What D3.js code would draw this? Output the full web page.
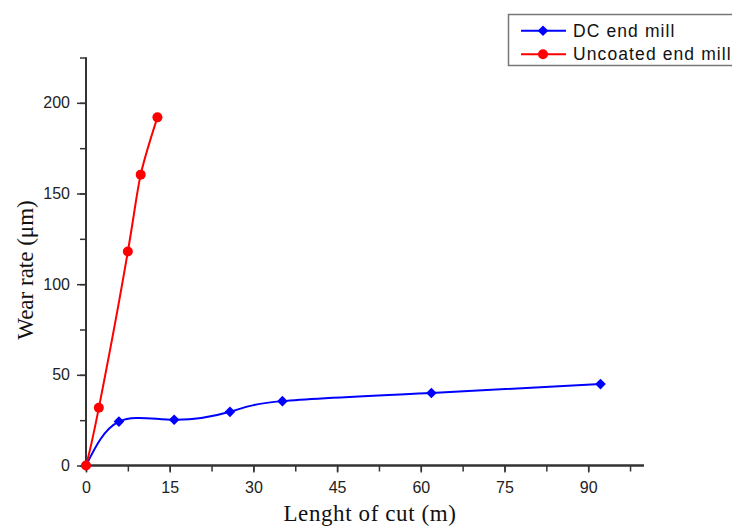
<!DOCTYPE html>
<html>
<head>
<meta charset="utf-8">
<script src="https://cdn.jsdelivr.net/npm/d3@7"></script>
<style>
  body { margin: 0; background: #fff; }
  svg { display: block; }
  .tick text { font-family: Arial, "Liberation Sans", sans-serif; font-size: 16px; fill: #222; }
  .axis-title { font-family: "Times New Roman", "Liberation Serif", serif; fill: #111; }
  .legend text { font-family: Arial, "Liberation Sans", sans-serif; font-size: 17.5px; letter-spacing: 1.1px; fill: #111; }
</style>
</head>
<body>
<svg id="chart" width="732" height="528"></svg>
<script>
// DC end mill
var dcLength = [0, 5.9, 15.8, 25.8, 35.2, 61.9, 92.2];
var dcWear = [0, 24.2, 25.2, 29.6, 35.5, 40, 44.9];

// Uncoated end mill
var ucLength = [0, 2.3, 7.5, 9.8, 12.8];
var ucWear = [0, 31.8, 118, 160.4, 192];

var xTicks = [0, 15, 30, 45, 60, 75, 90];
var yTicks = [0, 50, 100, 150, 200];

var svg = d3.select("#chart");

var x = d3.scaleLinear().domain([0, 100]).range([86, 644]);
var y = d3.scaleLinear().domain([0, 225]).range([465.5, 57.5]);

var axisColor = "#333";

// minor ticks
var xMinor = d3.range(0, 98, 7.5);
var yMinor = d3.range(0, 226, 25);

var gx = svg.append("g")
    .attr("transform", "translate(0," + y(0) + ")");
gx.call(d3.axisBottom(x).tickValues(xMinor).tickSize(6).tickFormat(""))
gx.append("g").call(d3.axisBottom(x).tickValues(xTicks).tickSize(7).tickPadding(9).tickFormat(d3.format("d")));
gx.selectAll(".tick line").attr("stroke", axisColor).attr("stroke-width", 1.5);

var gy = svg.append("g")
    .attr("transform", "translate(" + x(0) + ",0)");
gy.call(d3.axisLeft(y).tickValues(yMinor).tickSize(6).tickFormat(""))
gy.append("g").call(d3.axisLeft(y).tickValues(yTicks).tickSize(9).tickPadding(7).tickFormat(d3.format("d")));
gy.selectAll(".tick line").attr("stroke", axisColor).attr("stroke-width", 1.5);

// plain axis lines without end caps
gx.selectAll(".domain").attr("stroke", axisColor).attr("stroke-width", 2)
    .attr("d", "M" + x.range()[0] + ",0H" + x.range()[1]);
gy.selectAll(".domain").attr("stroke", axisColor).attr("stroke-width", 2)
    .attr("d", "M0," + y.range()[0] + "V" + y.range()[1]);

// axis titles
svg.append("text")
    .attr("class", "axis-title")
    .attr("x", 370)
    .attr("y", 521)
    .attr("text-anchor", "middle")
    .style("font-size", "23px")
    .style("letter-spacing", "0.6px")
    .text("Lenght of cut (m)");

svg.append("text")
    .attr("class", "axis-title")
    .attr("transform", "translate(33,270) rotate(-90)")
    .attr("text-anchor", "middle")
    .style("font-size", "23px")
    .text("Wear rate (\u03bcm)");

// series
var dcData = dcLength.map((d, i) => [d, dcWear[i]]);
var ucData = ucLength.map((d, i) => [d, ucWear[i]]);

var line = d3.line()
    .x((d) => x(d[0]))
    .y((d) => y(d[1]))
    .curve(d3.curveNatural);

svg.append("path")
    .datum(dcData)
    .attr("fill", "none")
    .attr("stroke", "#0000ff")
    .attr("stroke-width", 2)
    .attr("d", line);

svg.append("path")
    .datum(ucData)
    .attr("fill", "none")
    .attr("stroke", "#ff0000")
    .attr("stroke-width", 2)
    .attr("d", line);

var diamond = d3.symbol().type(d3.symbolDiamond2).size(72);

svg.append("g").selectAll("path")
    .data(dcData)
    .enter()
    .append("path")
    .attr("transform", (d) => "translate(" + x(d[0]) + "," + y(d[1]) + ")")
    .attr("d", diamond)
    .attr("fill", "#0000ff");

svg.append("g").selectAll("circle")
    .data(ucData)
    .enter()
    .append("circle")
    .attr("cx", (d) => x(d[0]))
    .attr("cy", (d) => y(d[1]))
    .attr("r", 5)
    .attr("fill", "#ff0000");

// legend
var legend = svg.append("g").attr("class", "legend");
legend.append("rect")
    .attr("x", 508.5).attr("y", 14.5)
    .attr("width", 240).attr("height", 51)
    .attr("fill", "#fff")
    .attr("stroke", "#777")
    .attr("stroke-width", 1.5);

var legendItems = [
  { name: "DC end mill", color: "#0000ff", shape: "diamond" },
  { name: "Uncoated end mill", color: "#ff0000", shape: "circle" }
];

legendItems.forEach(function (item, i) {
  var ly = 30.7 + i * 23.6;
  legend.append("line")
      .attr("x1", 521).attr("x2", 566)
      .attr("y1", ly).attr("y2", ly)
      .attr("stroke", item.color).attr("stroke-width", 2);
  if (item.shape === "diamond") {
    legend.append("path")
        .attr("transform", "translate(543," + ly + ")")
        .attr("d", diamond)
        .attr("fill", item.color);
  } else {
    legend.append("circle")
        .attr("cx", 543).attr("cy", ly).attr("r", 5)
        .attr("fill", item.color);
  }
  legend.append("text")
      .attr("x", 573)
      .attr("y", ly + 5.8)
      .text(item.name);
});
</script>
</body>
</html>
